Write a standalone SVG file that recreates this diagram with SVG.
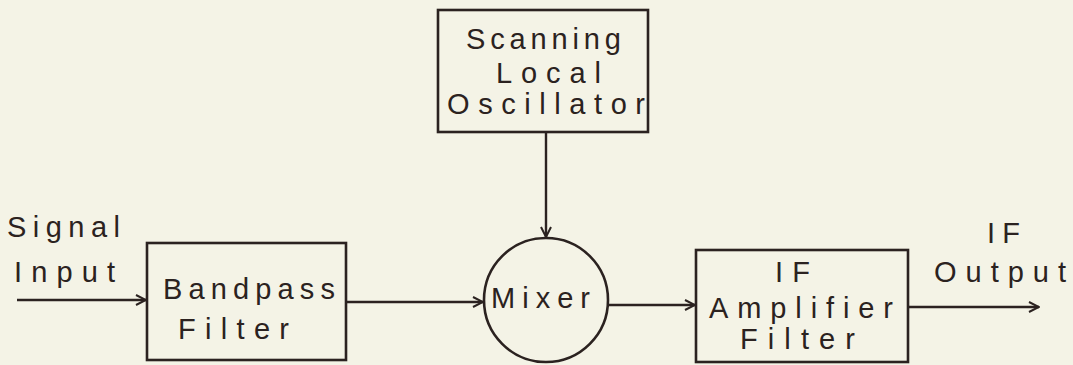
<svg xmlns="http://www.w3.org/2000/svg" width="1073" height="365" viewBox="0 0 1073 365">
<style>
.bg{fill:#f4f3e6}
.box{fill:none;stroke:#2b2220;stroke-width:2.6}
.ln{fill:none;stroke:#2b2220;stroke-width:2.4}
.t{font-family:"Liberation Sans","DejaVu Sans",sans-serif;font-size:29px;fill:#2b2220}
</style>
<defs>
<marker id="ah" viewBox="0 0 12 12" refX="11" refY="6" markerWidth="12" markerHeight="12" markerUnits="userSpaceOnUse" orient="auto">
<path d="M1,1 L11,6 L1,11" fill="none" stroke="#2b2220" stroke-width="2"/>
</marker>
</defs>
<rect class="bg" x="0" y="0" width="1073" height="365"/>
<g id="osc">
<rect class="box" x="438" y="10" width="210" height="122"/>
<text class="t" x="466" y="49" textLength="155" lengthAdjust="spacing">Scanning</text>
<text class="t" x="496" y="83" textLength="105" lengthAdjust="spacing">Local</text>
<text class="t" x="447" y="114" textLength="198" lengthAdjust="spacing">Oscillator</text>
</g>
<g id="bandpass">
<rect class="box" x="147" y="243" width="199" height="117"/>
<text class="t" x="163" y="299" textLength="172" lengthAdjust="spacing">Bandpass</text>
<text class="t" x="178" y="339" textLength="111" lengthAdjust="spacing">Filter</text>
</g>
<g id="mixer">
<circle class="box" cx="546" cy="300" r="62"/>
<text class="t" x="491" y="308" textLength="99" lengthAdjust="spacing">Mixer</text>
</g>
<g id="ifamp">
<rect class="box" x="696" y="250" width="212" height="112"/>
<text class="t" x="775" y="282" textLength="35" lengthAdjust="spacing">IF</text>
<text class="t" x="709" y="318" textLength="184" lengthAdjust="spacing">Amplifier</text>
<text class="t" x="740" y="349" textLength="115" lengthAdjust="spacing">Filter</text>
</g>
<g id="labels">
<text class="t" x="7" y="237" textLength="113" lengthAdjust="spacing">Signal</text>
<text class="t" x="14" y="282" textLength="101" lengthAdjust="spacing">Input</text>
<text class="t" x="987" y="243" textLength="33" lengthAdjust="spacing">IF</text>
<text class="t" x="934" y="282" textLength="132" lengthAdjust="spacing">Output</text>
</g>
<g id="connectors">
<line class="ln" x1="17" y1="300" x2="146" y2="300" marker-end="url(#ah)"/>
<line class="ln" x1="346" y1="302" x2="483" y2="302" marker-end="url(#ah)"/>
<line class="ln" x1="546" y1="132" x2="546" y2="237" marker-end="url(#ah)"/>
<line class="ln" x1="608" y1="305" x2="695" y2="305" marker-end="url(#ah)"/>
<line class="ln" x1="908" y1="307" x2="1039" y2="307" marker-end="url(#ah)"/>
</g>
</svg>
